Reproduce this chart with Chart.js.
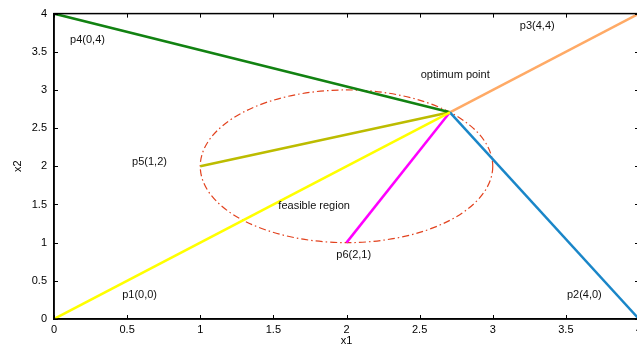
<!DOCTYPE html>
<html>
<head>
<meta charset="utf-8">
<script src="https://cdn.jsdelivr.net/npm/chart.js@4.4.1/dist/chart.umd.min.js"></script>
<style>
  html, body { margin: 0; padding: 0; background: #fff; overflow: hidden; }
  #wrap { position: relative; width: 637px; height: 349px; overflow: hidden; }
  #box { position: absolute; left: 0; top: 0; width: 661px; height: 349px; }
</style>
</head>
<body>
<div id="wrap"><div id="box"><canvas id="myChart"></canvas></div></div>
<script>
// les points
const optX = 2.7071;
const optY = 2.7071;
const pointNames = ['p1', 'p2', 'p3', 'p4', 'p5', 'p6'];
const pointX = [0, 4, 4, 0, 1, 2];
const pointY = [0, 0, 4, 4, 2, 1];
const lineColors = ['#ffff00', '#1a86c8', '#ffaa66', '#128212', '#bcbc00', '#ff00ff'];

// le cercle (region faisable)
const circleCenter = [2, 2];
const circleRadius = 1;

// les textes
const labelTexts = ['p4(0,4)', 'p3(4,4)', 'optimum point', 'p5(1,2)', 'feasible region', 'p6(2,1)', 'p1(0,0)', 'p2(4,0)'];
const labelX = [0.11, 3.185, 2.507, 0.534, 1.534, 1.93, 0.466, 3.507];
const labelY = [3.66, 3.84, 3.19, 2.06, 1.485, 0.834, 0.31, 0.31];

// les graduations
const xTicks = [0, 0.5, 1, 1.5, 2, 2.5, 3, 3.5, 4];
const yTicks = [0, 0.5, 1, 1.5, 2, 2.5, 3, 3.5, 4];

const FONT = 'Liberation Sans, Arial, Helvetica, sans-serif';

const datasets = pointNames.map((name, i) => ({
    label: name,
    data: [{ x: pointX[i], y: pointY[i] }, { x: optX, y: optY }],
    borderColor: lineColors[i],
    backgroundColor: lineColors[i],
    borderWidth: 2.5,
    pointRadius: 0,
    tension: 0,
}));

// cercle + textes + ticks vers l'intérieur + cadre
const decorPlugin = {
    id: 'decor',
    beforeDatasetsDraw(chart) {
        const { ctx, scales } = chart;
        const x = scales.x, y = scales.y;
        const cx = x.getPixelForValue(circleCenter[0]);
        const cy = y.getPixelForValue(circleCenter[1]);
        const rx = x.getPixelForValue(circleCenter[0] + circleRadius) - cx;
        const ry = cy - y.getPixelForValue(circleCenter[1] + circleRadius);
        ctx.save();
        ctx.strokeStyle = '#e2421e';
        ctx.lineWidth = 1.2;
        ctx.setLineDash([7, 3, 1.5, 3]);
        ctx.beginPath();
        ctx.ellipse(cx, cy, rx, ry, 0, 0, Math.PI * 2);
        ctx.stroke();
        ctx.restore();
    },
    afterDatasetsDraw(chart) {
        const { ctx, chartArea, scales } = chart;
        const x = scales.x, y = scales.y;
        ctx.save();
        ctx.fillStyle = '#111';
        ctx.font = '11px ' + FONT;
        ctx.textAlign = 'left';
        ctx.textBaseline = 'middle';
        labelTexts.forEach((t, i) => {
            ctx.fillText(t, x.getPixelForValue(labelX[i]), y.getPixelForValue(labelY[i]));
        });

        ctx.strokeStyle = '#000';
        ctx.lineWidth = 1;
        const tl = 4;
        ctx.beginPath();
        xTicks.forEach(v => {
            const px = Math.round(x.getPixelForValue(v)) + 0.5;
            ctx.moveTo(px, chartArea.bottom); ctx.lineTo(px, chartArea.bottom - tl);
            ctx.moveTo(px, chartArea.top); ctx.lineTo(px, chartArea.top + tl);
        });
        yTicks.forEach(v => {
            const py = Math.round(y.getPixelForValue(v)) + 0.5;
            ctx.moveTo(chartArea.left, py); ctx.lineTo(chartArea.left + tl, py);
            ctx.moveTo(chartArea.right, py); ctx.lineTo(chartArea.right - tl, py);
        });
        ctx.stroke();
        ctx.lineWidth = 1.5;
        ctx.strokeRect(chartArea.left, chartArea.top, chartArea.right - chartArea.left, chartArea.bottom - chartArea.top);
        ctx.restore();
    }
};

const fmt = (v) => String(v);

new Chart(document.getElementById('myChart').getContext('2d'), {
    type: 'line',
    data: { datasets },
    plugins: [decorPlugin],
    options: {
        responsive: true,
        maintainAspectRatio: false,
        animation: false,
        events: [],
        layout: { padding: { left: 0, top: 12, right: 22, bottom: 0 } },
        plugins: { legend: { display: false }, tooltip: { enabled: false } },
        scales: {
            x: {
                type: 'linear',
                min: 0, max: 4,
                afterBuildTicks: (s) => { s.ticks = xTicks.map(v => ({ value: v })); },
                afterFit: (s) => { s.height = 30; },
                grid: { drawOnChartArea: false, drawTicks: false, color: '#000' },
                border: { display: true, color: '#000', width: 1.5 },
                ticks: { color: '#000', padding: 4, autoSkip: false, maxRotation: 0, callback: fmt, font: { family: FONT, size: 11 } },
                title: { display: true, text: 'x1', color: '#000', padding: { top: 0, bottom: 1 }, font: { family: FONT, size: 11 } },
            },
            y: {
                type: 'linear',
                min: 0, max: 4,
                afterBuildTicks: (s) => { s.ticks = yTicks.map(v => ({ value: v })); },
                afterFit: (s) => { s.width = 54; },
                grid: { drawOnChartArea: false, drawTicks: false, color: '#000' },
                border: { display: true, color: '#000', width: 1.5 },
                ticks: { color: '#000', padding: 7, autoSkip: false, callback: fmt, font: { family: FONT, size: 11 } },
                title: { display: true, text: 'x2', color: '#000', padding: { top: 11, bottom: 0 }, font: { family: FONT, size: 11 } },
            },
        },
    },
});
</script>
</body>
</html>
